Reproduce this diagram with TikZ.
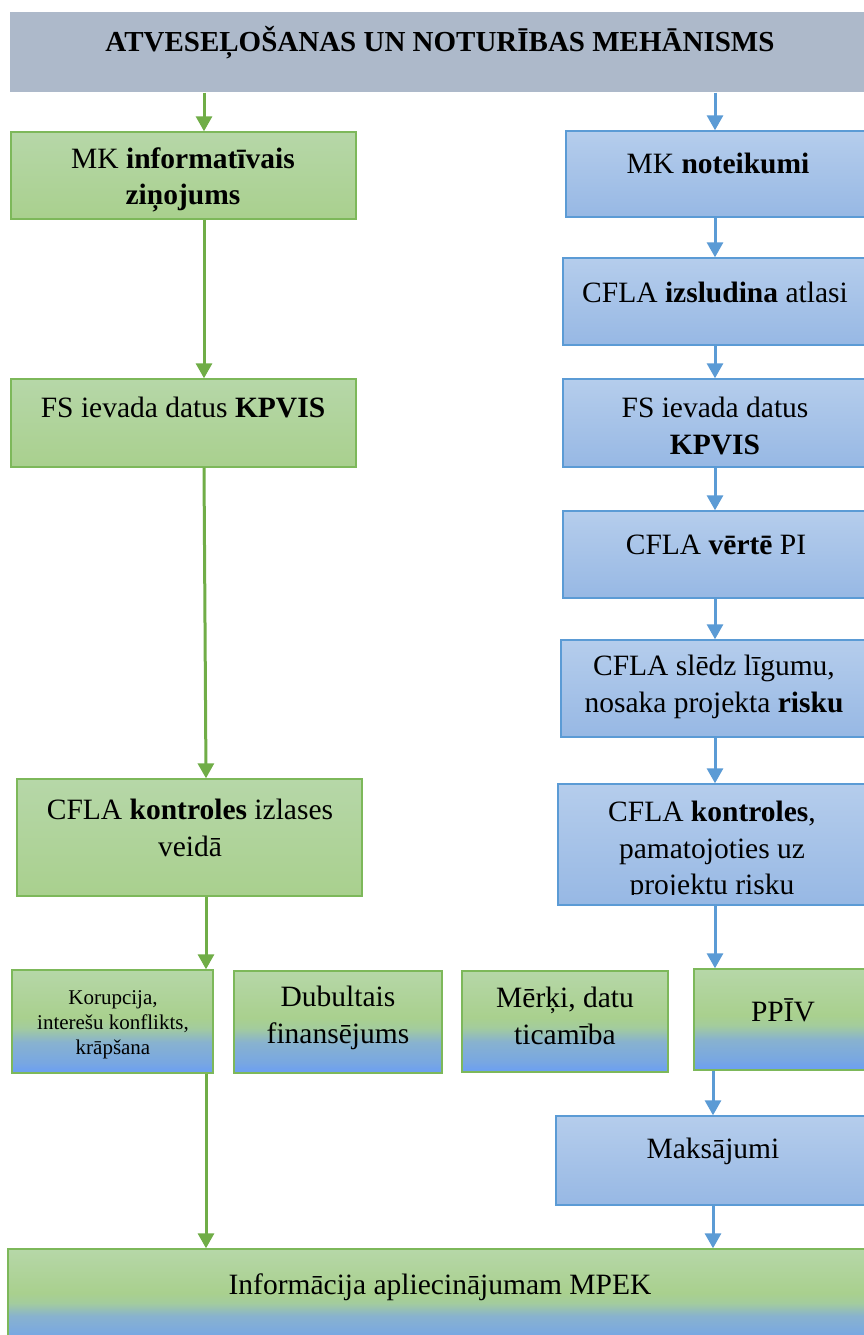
\documentclass[tikz,border=0pt]{standalone}
\usepackage{fontspec}
\setmainfont{Liberation Serif}
\usetikzlibrary{arrows.meta}
\definecolor{hdrc}{HTML}{ADB9CA}
\definecolor{gfillT}{HTML}{B6D7A8}
\definecolor{gfillB}{HTML}{A9D08E}
\definecolor{gline}{HTML}{7DB85A}
\definecolor{garr}{HTML}{70AD47}
\definecolor{bfillT}{HTML}{B5CDEC}
\definecolor{bfillB}{HTML}{97B8E4}
\definecolor{bline}{HTML}{5B9BD5}
\definecolor{mixblue}{HTML}{6A9EF4}
\definecolor{mixmid}{HTML}{88B2CF}
\definecolor{mixlow}{HTML}{78A7E2}
\definecolor{mixhi}{HTML}{A3CC9D}
\pgfdeclareverticalshading{gbshade}{100bp}{color(0bp)=(mixblue); color(25bp)=(mixblue); color(30bp)=(mixlow); color(40bp)=(mixmid); color(47bp)=(mixhi); color(52bp)=(gfillB); color(75bp)=(gfillT); color(100bp)=(gfillT)}
\tikzset{
  x=1pt, y=-1pt,
  boxbase/.style={rectangle, inner sep=0pt, line width=1.4pt},
  gbox/.style={boxbase, draw=gline, top color=gfillT, bottom color=gfillB},
  bbox/.style={boxbase, draw=bline, top color=bfillT, bottom color=bfillB},
  mbox/.style={boxbase, draw=gline, shading=gbshade},
  txt/.style={inner sep=0pt, align=center, font=\fontsize{29.5}{36.5}\selectfont},
  stxt/.style={inner sep=0pt, align=center, font=\fontsize{21}{25}\selectfont},
  garrow/.style={draw=garr, line width=3pt, -{Triangle[width=16pt,length=15pt]}},
  barrow/.style={draw=bline, line width=3pt, -{Triangle[width=16pt,length=15pt]}}
}
\begin{document}
\begin{tikzpicture}
\clip (0,0) rectangle (864,1335);
\fill[white] (0,0) rectangle (864,1335);
% header
\node[boxbase, fill=hdrc, minimum width=856pt, minimum height=80pt] (hdr) at (438,52) {};
\node[txt, font=\fontsize{29}{36.5}\selectfont\bfseries] (hdrt) at (440,42.5) {ATVESEĻOŠANAS UN NOTURĪBAS MEHĀNISMS};
% green column
\node[gbox, minimum width=345pt, minimum height=87pt] (g1) at (183.5,175.5) {};
\node[txt] (g1t) at (183,180) {MK \textbf{informatīvais}\\\textbf{ziņojums}};
\node[gbox, minimum width=345pt, minimum height=88pt] (g2) at (183.5,423) {};
\node[txt] (g2t) at (183,407) {FS ievada datus \textbf{KPVIS}};
\node[gbox, minimum width=345pt, minimum height=117pt] (g3) at (189.5,837.5) {};
\node[txt] (g3t) at (190,828) {CFLA \textbf{kontroles} izlases\\veidā};
% middle row
\node[mbox, minimum width=201pt, minimum height=103pt] (k1) at (112.5,1021.5) {};
\node[stxt] (k1t) at (113,1025) {Korupcija,\\interešu konflikts,\\krāpšana};
\node[mbox, minimum width=208pt, minimum height=102pt] (k2) at (338,1022) {};
\node[txt] (k2t) at (338,1018) {Dubultais\\finansējums};
\node[mbox, minimum width=206pt, minimum height=101pt] (k3) at (565,1021.5) {};
\node[txt] (k3t) at (565,1016) {Mērķi, datu\\ticamība};
\node[mbox, minimum width=176pt, minimum height=101pt] (k4) at (782,1019.5) {};
\node[txt] (k4t) at (783,1010) {PPĪV};
% blue column
\node[bbox, minimum width=304pt, minimum height=86pt] (b1) at (718,174) {};
\node[txt] (b1t) at (718,163.5) {MK \textbf{noteikumi}};
\node[bbox, minimum width=307pt, minimum height=87pt] (b2) at (716.5,301.5) {};
\node[txt] (b2t) at (715,292) {CFLA \textbf{izsludina} atlasi};
\node[bbox, minimum width=307pt, minimum height=88pt] (b3) at (716.5,423) {};
\node[txt] (b3t) at (715,426) {FS ievada datus\\\textbf{KPVIS}};
\node[bbox, minimum width=307pt, minimum height=87pt] (b4) at (716.5,554.5) {};
\node[txt] (b4t) at (716,545) {CFLA \textbf{vērtē} PI};
\node[bbox, minimum width=309pt, minimum height=97pt] (b5) at (715.5,688.5) {};
\node[txt] (b5t) at (714,687) {CFLA slēdz līgumu,\\nosaka projekta \textbf{risku}};
\node[bbox, minimum width=312pt, minimum height=121pt] (b6) at (714,844.5) {};
\begin{scope}
\clip (b6.north west) rectangle ([yshift=11pt]b6.south east);
\node[txt] (b6t) at (712,851) {CFLA \textbf{kontroles},\\pamatojoties uz\\projektu risku};
\end{scope}
\node[bbox, minimum width=314pt, minimum height=89pt] (b7) at (713,1160.5) {};
\node[txt] (b7t) at (713,1151) {Maksājumi};
% bottom
\node[mbox, minimum width=862pt, minimum height=96pt] (bot) at (439,1297) {};
\node[txt] (bott) at (440,1287) {Informācija apliecinājumam MPEK};
% arrow x positions
\coordinate (ga) at (204,0);
\coordinate (gb) at (206,0);
\coordinate (ba) at (715,0);
\coordinate (bb) at (713,0);
% green arrows
\draw[garrow] (hdr.south -| ga) -- (g1.north -| ga);
\draw[garrow] (g1.south -| ga) -- (g2.north -| ga);
\draw[garrow] (g2.south -| ga) -- (g3.north -| gb);
\draw[garrow] (g3.south -| gb) -- (k1.north -| gb);
\draw[garrow] (k1.south -| gb) -- (bot.north -| gb);
% blue arrows
\draw[barrow] (hdr.south -| ba) -- (b1.north -| ba);
\draw[barrow] (b1.south -| ba) -- (b2.north -| ba);
\draw[barrow] (b2.south -| ba) -- (b3.north -| ba);
\draw[barrow] (b3.south -| ba) -- (b4.north -| ba);
\draw[barrow] (b4.south -| ba) -- (b5.north -| ba);
\draw[barrow] (b5.south -| ba) -- (b6.north -| ba);
\draw[barrow] (b6.south -| ba) -- (k4.north -| ba);
\draw[barrow] (k4.south -| bb) -- (b7.north -| bb);
\draw[barrow] (b7.south -| bb) -- (bot.north -| bb);
\end{tikzpicture}
\end{document}
